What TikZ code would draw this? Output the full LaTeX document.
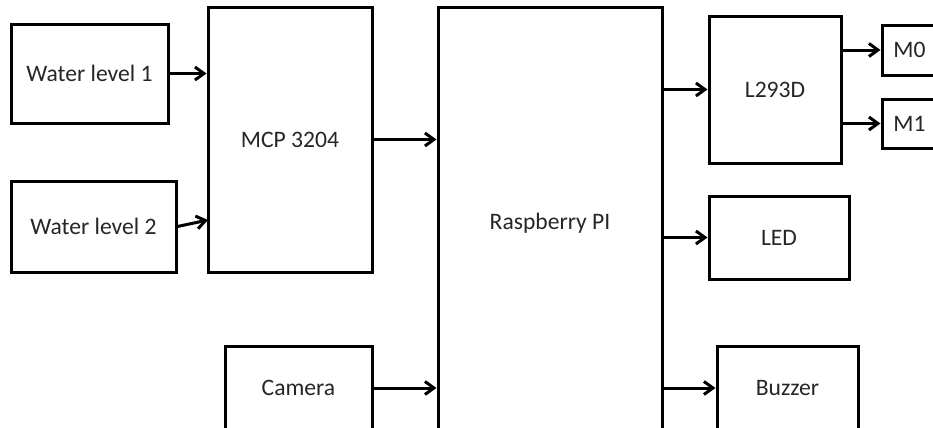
\documentclass[tikz,border=0pt]{standalone}
\usepackage{fontspec}
\setmainfont{Carlito}
\usepackage{tikz}
\usetikzlibrary{arrows.meta,positioning}
\definecolor{Ink}{HTML}{262626}
\tikzset{
  block/.style={draw=black, line width=1.5pt, fill=white, align=center,
                inner sep=0pt, text=Ink, font=\fontsize{11.8}{14}\selectfont},
  arrow/.style={-{Straight Barb[length=4.5pt,width=6.5pt]}, line width=1.5pt, draw=black},
}
\begin{document}
\begin{tikzpicture}[x=0.5pt, y=-0.5pt]
  \useasboundingbox (0,0) rectangle (933,428);
  \clip (0,0) rectangle (933,428);
  % inputs
  \node[block, minimum width=78.5pt, minimum height=49.5pt] (WL1) at (89.5,73.5) {Water level 1};
  \node[block, minimum width=82.5pt, minimum height=45.5pt] (WL2) at (93.5,226.5) {Water level 2};
  \node[block, minimum width=82pt, minimum height=132.5pt] (MCP) at (290,139.5) {MCP 3204};
  \node[block, minimum width=73.5pt, minimum height=42pt] (CAM) at (298.5,388) {Camera};
  % controller
  \node[block, minimum width=112pt, minimum height=216.5pt] (PI) at (550,223.5) {Raspberry PI};
  % outputs
  \node[block, minimum width=66pt, minimum height=73.5pt] (DRV) at (775,89.5) {L293D};
  \node[block, minimum width=27.5pt, minimum height=25pt] (M0) at (909.5,50) {M0};
  \node[block, minimum width=27.5pt, minimum height=24.5pt] (M1) at (909.5,123.5) {M1};
  \node[block, minimum width=70pt, minimum height=41.5pt] (LED) at (779,237.5) {LED};
  \node[block, minimum width=70.5pt, minimum height=42pt] (BUZ) at (787.5,388) {Buzzer};
  \coordinate (MCPin) at (208,220);
  % connections
  \draw[arrow] (WL1.east) -- (WL1.east -| MCP.west);
  \draw[arrow] (WL2.east) -- (MCPin);
  \draw[arrow] (MCP.east) -- (MCP.east -| PI.west);
  \draw[arrow] (CAM.east) -- (CAM.east -| PI.west);
  \draw[arrow] (DRV.west -| PI.east) -- (DRV.west);
  \draw[arrow] (LED.west -| PI.east) -- (LED.west);
  \draw[arrow] (BUZ.west -| PI.east) -- (BUZ.west);
  \draw[arrow] (M0.west -| DRV.east) -- (M0.west);
  \draw[arrow] (M1.west -| DRV.east) -- (M1.west);
\end{tikzpicture}
\end{document}
